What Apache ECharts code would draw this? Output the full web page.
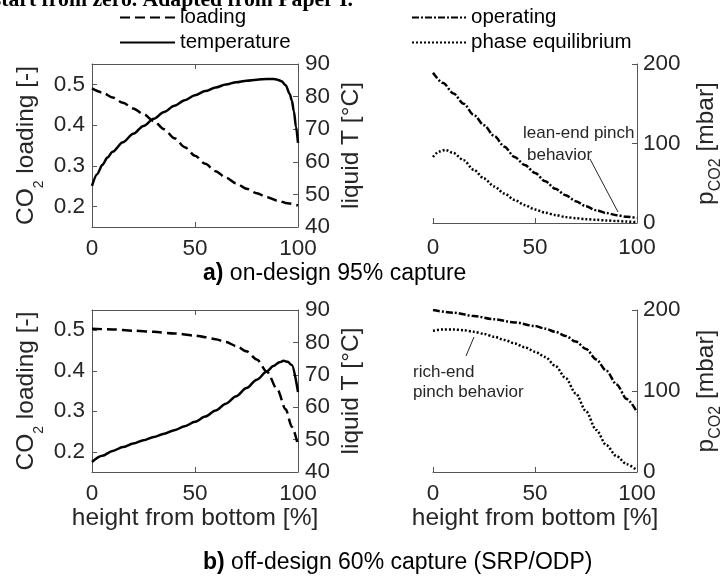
<!DOCTYPE html>
<html>
<head>
<meta charset="utf-8">
<script src="https://cdn.jsdelivr.net/npm/echarts@6/dist/echarts.min.js"></script>
<style>html,body{margin:0;padding:0;background:#fff}#chart{width:725px;height:577px}</style>
</head>
<body>
<div id="chart"></div>
<script>
// Absorber column profiles along the packing height.

// (a) on-design 95% capture: liquid side
const hLoadA = [0, 5, 10, 15, 20, 25, 30, 35, 40, 45, 50, 55, 60, 65, 70, 75, 80, 85, 90, 95, 100];
const loadingA = [0.490, 0.480, 0.468, 0.455, 0.441, 0.427, 0.410, 0.390, 0.368, 0.346, 0.325, 0.305, 0.287, 0.271, 0.257, 0.244, 0.233, 0.223, 0.215, 0.208, 0.203];
const hTempA = [0, 2.5, 5, 7.5, 10, 15, 20, 25, 30, 35, 40, 45, 50, 55, 60, 65, 70, 75, 80, 85, 88, 90, 92, 94, 96, 97, 98, 99, 100];
const tempA = [52.6, 56.2, 59.0, 61.3, 63.1, 66.0, 68.6, 71.0, 73.2, 75.3, 77.2, 78.9, 80.4, 81.7, 82.8, 83.7, 84.4, 84.9, 85.2, 85.4, 85.4, 85.2, 84.7, 83.5, 80.8, 78.8, 75.5, 70.8, 65.8];

// (a) gas side: CO2 partial pressure [mbar]
const hOpA = [0, 5, 10, 15, 20, 25, 30, 35, 40, 45, 50, 55, 60, 65, 70, 75, 80, 85, 90, 95, 100];
const operatingA = [189, 176, 163, 150, 136, 123, 109.5, 96, 83, 73, 63, 52.5, 43, 35, 27.5, 21, 16, 12.5, 9.8, 7.8, 6.3];
const hEqA = [0, 3, 6, 10, 15, 20, 25, 30, 35, 40, 45, 50, 55, 60, 65, 70, 75, 80, 85, 90, 95, 100];
const equilibriumA = [83, 90, 92, 88, 79, 67, 56, 46, 37, 29, 22.5, 17, 13, 10, 7.5, 6, 4.8, 4, 3.2, 2.5, 1.8, 1];

// (b) off-design 60% capture: liquid side
const hLoadB = [0, 10, 20, 30, 40, 50, 55, 60, 65, 70, 75, 80, 85, 90, 94, 97, 100];
const loadingB = [0.504, 0.502, 0.499, 0.496, 0.492, 0.487, 0.483, 0.478, 0.471, 0.461, 0.448, 0.428, 0.397, 0.353, 0.305, 0.262, 0.216];
const hTempB = [0, 5, 10, 15, 20, 25, 30, 35, 40, 45, 50, 55, 60, 65, 70, 75, 80, 85, 88, 91, 93, 95, 97, 100];
const tempB = [43.1, 45.0, 46.5, 47.7, 48.8, 49.8, 50.8, 51.8, 52.9, 54.1, 55.5, 57.1, 59.0, 61.1, 63.4, 65.9, 68.5, 71.1, 72.7, 73.9, 74.3, 74.0, 73.0, 64.7];

// (b) gas side
const hOpB = [0, 10, 20, 30, 40, 50, 55, 60, 65, 70, 75, 80, 85, 90, 95, 100];
const operatingB = [200, 196.7, 192.6, 188.5, 184.7, 180.2, 177, 173, 168, 161, 152, 139, 125, 108, 90, 74];
const hEqB = [0, 5, 10, 15, 20, 25, 30, 35, 40, 45, 50, 55, 60, 65, 70, 75, 80, 85, 90, 95, 100];
const equilibriumB = [174.4, 176, 176, 175, 173, 170.5, 167, 163, 158.8, 154, 148.5, 142, 131, 116, 97, 75, 52, 33, 19.5, 9.5, 2];

// Axis ticks
const loadingTicks = [0.2, 0.3, 0.4, 0.5];

const FONT = '"Liberation Sans", Arial, sans-serif';
const INK = '#262626';
const AXIS = '#555555';
const TICK_FS = 22.5;
const NAME_FS = 24.5;

const pairs = (xs, ys) => xs.map((x, i) => [x, ys[i]]);

function heightAxis(gridIndex, opts) {
  return Object.assign({
    type: 'value', gridIndex, min: 0, max: 100, interval: 50, position: 'bottom',
    axisLine: { show: true, onZero: false, lineStyle: { color: AXIS, width: 1 } },
    axisTick: { show: true, inside: true, length: 5, lineStyle: { color: AXIS } },
    axisLabel: { show: true, margin: 10, color: INK, fontSize: TICK_FS, fontFamily: FONT },
    splitLine: { show: false },
    nameLocation: 'middle', nameGap: 34,
    nameTextStyle: { color: INK, fontSize: NAME_FS, fontFamily: FONT }
  }, opts);
}

function topFrame(gridIndex) {
  return heightAxis(gridIndex, { position: 'top', axisLabel: { show: false } });
}

const subRich = {
  m: { fontSize: NAME_FS, fontFamily: FONT, color: INK, verticalAlign: 'top' },
  s: { fontSize: 14, fontFamily: FONT, color: INK, verticalAlign: 'top', padding: [18, 0, 0, 0] },
  ps: { fontSize: 16, fontFamily: FONT, color: INK, verticalAlign: 'top', padding: [14, 0, 0, 0] }
};

function loadingAxis(gridIndex) {
  return {
    type: 'value', gridIndex, position: 'left', min: 0.15, max: 0.55, interval: 0.05,
    axisLine: { show: true, onZero: false, lineStyle: { color: AXIS, width: 1 } },
    axisTick: { show: true, inside: true, length: 5, customValues: loadingTicks, lineStyle: { color: AXIS } },
    axisLabel: { margin: 7, color: INK, fontSize: TICK_FS, fontFamily: FONT, customValues: loadingTicks,
                 formatter: v => v.toFixed(1) },
    splitLine: { show: false },
    name: '{m|CO}{s|2}{m| loading [-]}', nameLocation: 'middle', nameRotate: 90, nameGap: 46,
    nameTextStyle: { rich: subRich }
  };
}

function temperatureAxis(gridIndex) {
  return {
    type: 'value', gridIndex, position: 'right', min: 40, max: 90, interval: 10,
    axisLine: { show: true, onZero: false, lineStyle: { color: AXIS, width: 1 } },
    axisTick: { show: true, inside: true, length: 5, lineStyle: { color: AXIS } },
    axisLabel: { margin: 7, color: INK, fontSize: TICK_FS, fontFamily: FONT },
    splitLine: { show: false },
    name: 'liquid T [°C]', nameLocation: 'middle', nameRotate: 90, nameGap: 41,
    nameTextStyle: { color: INK, fontSize: NAME_FS, fontFamily: FONT }
  };
}

function pressureAxis(gridIndex) {
  return {
    type: 'value', gridIndex, position: 'right', min: 0, max: 200, interval: 100,
    axisLine: { show: true, onZero: false, lineStyle: { color: AXIS, width: 1 } },
    axisTick: { show: true, inside: true, length: 5, lineStyle: { color: AXIS } },
    axisLabel: { margin: 6, color: INK, fontSize: TICK_FS, fontFamily: FONT },
    splitLine: { show: false },
    name: '{m|p}{ps|CO2}{m| [mbar]}', nameLocation: 'middle', nameRotate: 90, nameGap: 57,
    nameTextStyle: { rich: subRich }
  };
}

const STYLE = {
  loading:     { color: '#000', width: 2.5, type: [10, 5] },
  temperature: { color: '#000', width: 2.5, type: 'solid' },
  operating:   { color: '#000', width: 2.5, type: [7, 2, 2, 2] },
  equilibrium: { color: '#000', width: 2.5, type: [2, 2] }
};

function curve(name, xi, yi, xs, ys, style) {
  return {
    name, type: 'line', xAxisIndex: xi, yAxisIndex: yi, data: pairs(xs, ys),
    symbol: 'none', smooth: 0.3, smoothMonotone: 'x',
    lineStyle: style, itemStyle: { color: '#000' }, z: 3
  };
}

const legendText = { fontSize: 20.5, color: '#000', fontFamily: FONT };

const option = {
  animation: false,
  backgroundColor: '#fff',
  textStyle: { fontFamily: FONT },
  title: [
    { text: '{b|a)} on-design 95% capture', left: 203, top: 262, padding: 0,
      textStyle: { fontSize: 23, fontWeight: 'normal', color: '#000', fontFamily: FONT,
                   rich: { b: { fontSize: 23, fontWeight: 'bold', color: '#000', fontFamily: FONT } } } },
    { text: '{b|b)} off-design 60% capture (SRP/ODP)', left: 203, top: 551, padding: 0,
      textStyle: { fontSize: 23, fontWeight: 'normal', color: '#000', fontFamily: FONT,
                   rich: { b: { fontSize: 23, fontWeight: 'bold', color: '#000', fontFamily: FONT } } } }
  ],
  legend: [
    { data: ['loading', 'temperature'], orient: 'vertical', left: 119, top: 7, padding: 0,
      itemWidth: 55, itemHeight: 14, itemGap: 4, selectedMode: false,
      itemStyle: { opacity: 0 }, textStyle: legendText },
    { data: ['operating', 'phase equilibrium'], orient: 'vertical', left: 411, top: 7, padding: 0,
      itemWidth: 54, itemHeight: 14, itemGap: 4, selectedMode: false,
      itemStyle: { opacity: 0 }, textStyle: legendText }
  ],
  grid: [
    { left: 92, top: 64, width: 206, height: 163 },
    { left: 433, top: 64, width: 206, height: 159 },
    { left: 92, top: 310, width: 206, height: 162 },
    { left: 433, top: 310, width: 206, height: 162 }
  ],
  xAxis: [
    heightAxis(0),
    topFrame(0),
    heightAxis(1, { axisLabel: { show: true, margin: 13, color: INK, fontSize: TICK_FS, fontFamily: FONT } }),
    heightAxis(2, { name: 'height from bottom [%]' }),
    topFrame(2),
    heightAxis(3, { name: 'height from bottom [%]' })
  ],
  yAxis: [
    loadingAxis(0),
    temperatureAxis(0),
    pressureAxis(1),
    loadingAxis(2),
    temperatureAxis(2),
    pressureAxis(3)
  ],
  series: [
    curve('loading', 0, 0, hLoadA, loadingA, STYLE.loading),
    curve('temperature', 0, 1, hTempA, tempA, STYLE.temperature),
    curve('operating', 2, 2, hOpA, operatingA, STYLE.operating),
    curve('phase equilibrium', 2, 2, hEqA, equilibriumA, STYLE.equilibrium),
    curve('loading', 3, 3, hLoadB, loadingB, STYLE.loading),
    curve('temperature', 3, 4, hTempB, tempB, STYLE.temperature),
    curve('operating', 5, 5, hOpB, operatingB, STYLE.operating),
    curve('phase equilibrium', 5, 5, hEqB, equilibriumB, STYLE.equilibrium)
  ],
  graphic: [
    { type: 'text', silent: true, style: { text: 'start from zero. Adapted from Paper I.', x: 353, y: 11,
      align: 'right', verticalAlign: 'bottom', font: 'bold 21.7px "Liberation Serif", serif', fill: '#000' } },
    { type: 'text', silent: true, style: { text: 'lean-end pinch', x: 523, y: 133, align: 'left', verticalAlign: 'middle',
      font: '17px "Liberation Sans", Arial, sans-serif', fill: INK } },
    { type: 'text', silent: true, style: { text: 'behavior', x: 527, y: 155, align: 'left', verticalAlign: 'middle',
      font: '17px "Liberation Sans", Arial, sans-serif', fill: INK } },
    { type: 'line', silent: true, shape: { x1: 590, y1: 159, x2: 618, y2: 212 }, style: { stroke: INK, lineWidth: 1 } },
    { type: 'text', silent: true, style: { text: 'rich-end', x: 413, y: 372, align: 'left', verticalAlign: 'middle',
      font: '17px "Liberation Sans", Arial, sans-serif', fill: INK } },
    { type: 'text', silent: true, style: { text: 'pinch behavior', x: 413, y: 392, align: 'left', verticalAlign: 'middle',
      font: '17px "Liberation Sans", Arial, sans-serif', fill: INK } },
    { type: 'line', silent: true, shape: { x1: 466, y1: 356, x2: 474, y2: 337 }, style: { stroke: INK, lineWidth: 1 } }
  ]
};

const chart = echarts.init(document.getElementById('chart'), null, { renderer: 'canvas' });
chart.setOption(option);
</script>
</body>
</html>
